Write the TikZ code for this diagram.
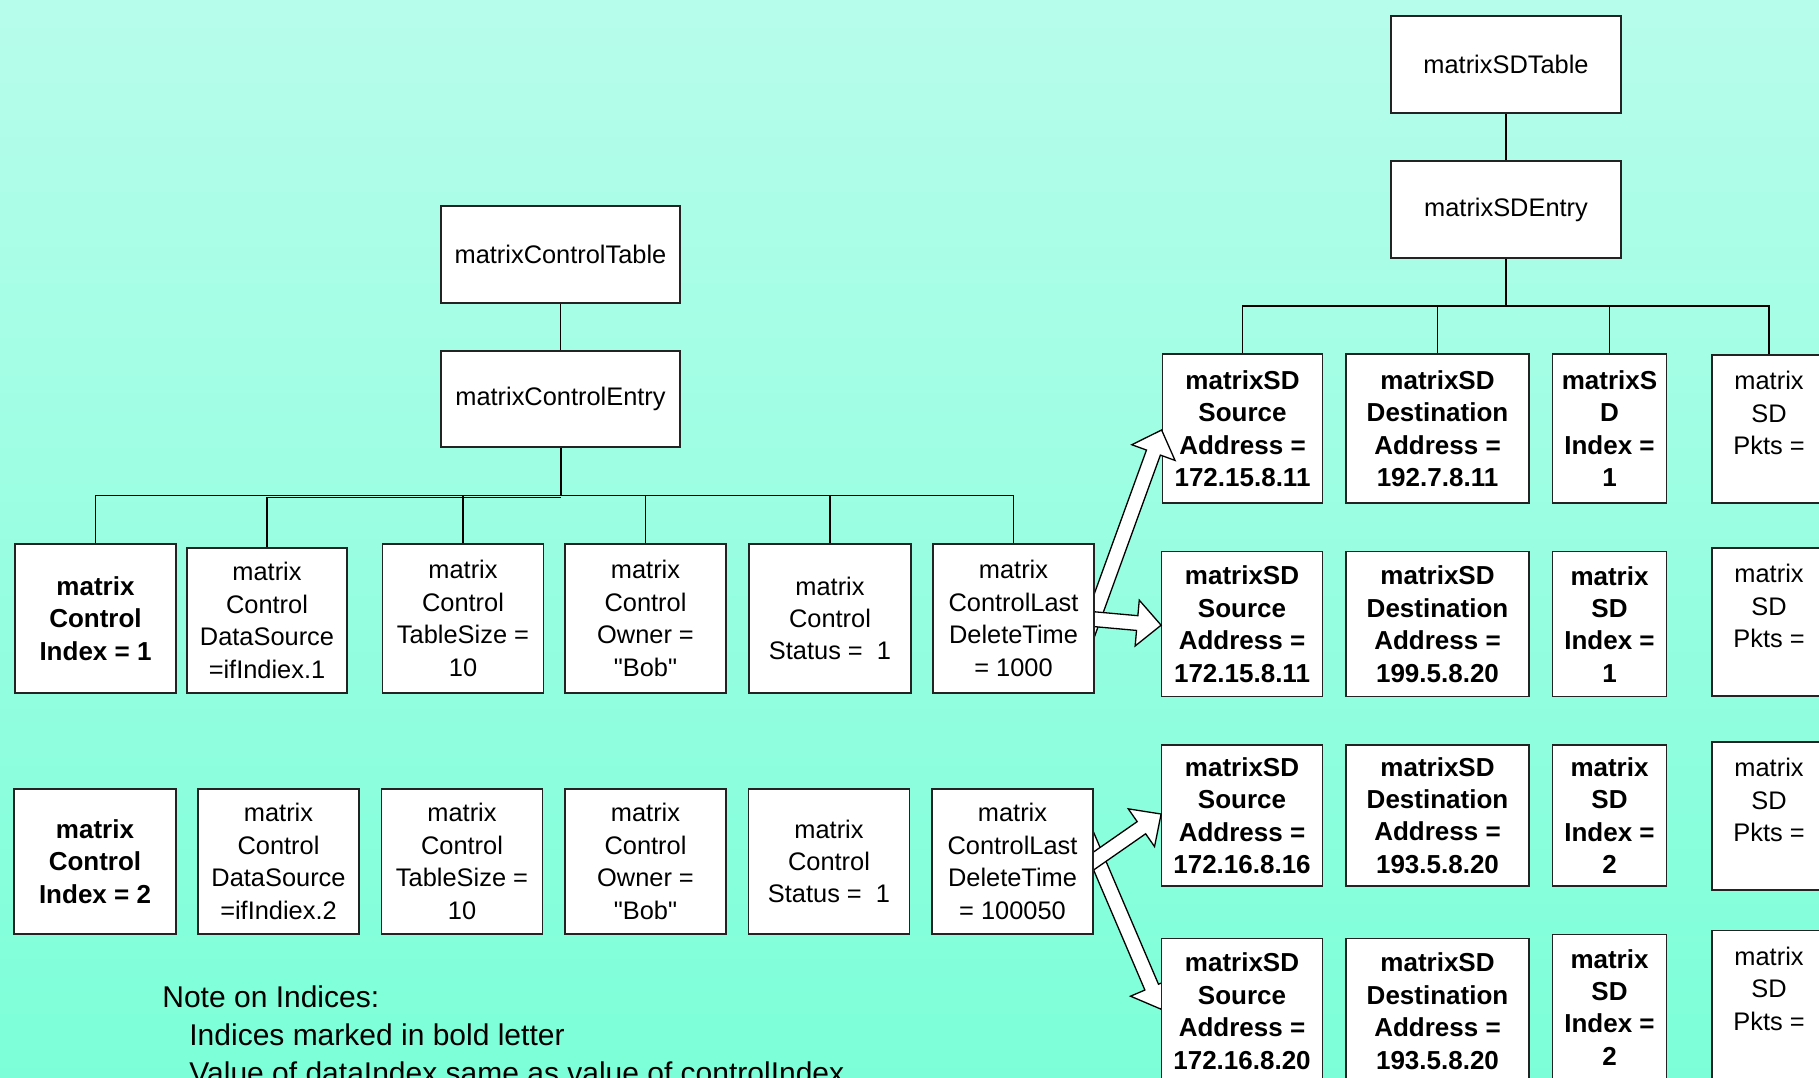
\documentclass[tikz,border=0pt]{standalone}
\usepackage{fontspec}
\setmainfont{Liberation Sans}[Ligatures=TeXOff]
\usetikzlibrary{calc}

\pgfdeclarelayer{bg}
\pgfdeclarelayer{back}
\pgfdeclarelayer{mid}
\pgfdeclarelayer{front}
\pgfsetlayers{bg,back,main,mid,front}

\definecolor{mintTop}{RGB}{183,253,235}
\definecolor{mintBot}{RGB}{124,255,216}
\definecolor{edge}{RGB}{35,35,35}

\tikzset{
  box/.style={draw=edge, fill=white, line width=0.65pt, align=center,
    inner sep=0pt, font=\fontsize{12.7}{16.2}\selectfont},
  keybox/.style={box, font=\fontsize{13}{16.2}\selectfont\bfseries},
  topbox/.style={box, minimum width=119.5pt, minimum height=48.5pt},
  sdtop/.style={box, minimum width=115pt, minimum height=48.5pt},
  lw/.style={minimum width=80.5pt},
  srcw/.style={minimum width=80.25pt},
  dstw/.style={minimum width=91.5pt},
  idxw/.style={minimum width=57.25pt},
  pktw/.style={minimum width=57pt},
  tree/.style={draw=black, line width=0.65pt},
  trunk/.style={draw=black, line width=1pt},
  blkarrow/.style={draw=black, fill=white, line width=0.65pt, line join=miter},
  note/.style={anchor=base west, inner sep=0pt, font=\fontsize{15}{19}\selectfont},
}

% block arrow from a tail point to a tip point
\newcommand{\blockarrow}[2]{%
  \coordinate (#1-hb) at ($(#2)!12pt!(#1)$);
  \draw[blkarrow] ($(#1)!3.7pt!90:(#2)$) -- ($(#1-hb)!3.7pt!90:(#2)$)
    -- ($(#1-hb)!11.5pt!90:(#2)$) -- (#2)
    -- ($(#1-hb)!11.5pt!-90:(#2)$) -- ($(#1-hb)!3.7pt!-90:(#2)$)
    -- ($(#1)!3.7pt!-90:(#2)$) -- cycle;
}

\begin{document}
\begin{tikzpicture}[x=0.5pt, y=-0.5pt]
\useasboundingbox (0,0) rectangle (1819,1077);
\begin{pgfonlayer}{bg}
  \shade[top color=mintTop, bottom color=mintBot] (0,0) rectangle (1819,1077);
\end{pgfonlayer}

% ---- control table tree ----
\node[topbox] (ct) at (560.5,254.5) {matrixControlTable};
\node[topbox, minimum height=48pt] (ce) at (560.5,399) {matrixControlEntry};

\node[keybox, lw, minimum height=74.5pt] (i1) at (95.5,618.5) {matrix\\Control\\Index = 1};
\node[box, minimum width=80pt, minimum height=72.5pt] (d1) at (267,620.5) {matrix\\Control\\DataSource\\=ifIndiex.1};
\node[box, lw, minimum height=74.5pt] (t1) at (463,618.5) {matrix\\Control\\TableSize =\\10};
\node[box, lw, minimum height=74.5pt] (o1) at (645.5,618.5) {matrix\\Control\\Owner =\\"Bob"};
\node[box, minimum width=81pt, minimum height=74.5pt] (s1) at (830,618.5) {matrix\\Control\\Status = \ 1};

\node[keybox, minimum width=81pt, minimum height=72.5pt] (i2) at (95,861.5) {matrix\\Control\\Index = 2};
\node[box, lw, minimum height=72.5pt] (d2) at (278.5,861.5) {matrix\\Control\\DataSource\\=ifIndiex.2};
\node[box, lw, minimum height=72.5pt] (t2) at (462,861.5) {matrix\\Control\\TableSize =\\10};
\node[box, lw, minimum height=72.5pt] (o2) at (645.5,861.5) {matrix\\Control\\Owner =\\"Bob"};
\node[box, lw, minimum height=72.5pt] (s2) at (829,861.5) {matrix\\Control\\Status = \ 1};

\begin{pgfonlayer}{front}
  \node[box, lw, minimum height=74.5pt] (l1) at (1013.5,618.5) {matrix\\ControlLast\\DeleteTime\\= 1000};
  \node[box, lw, minimum height=72.5pt] (l2) at (1012.5,861.5) {matrix\\ControlLast\\DeleteTime\\= 100050};
\end{pgfonlayer}

\coordinate (cbus) at (560.5,495.5);
\coordinate (cbus2) at (560.5,497.5);
\draw[tree] (ct) -- (ce);
\draw[trunk] (ce.south) -- (cbus);
\foreach \n in {i1,t1,o1,s1,l1} \draw[tree] (\n.north) |- (cbus);
\draw[tree] (d1.north) |- (cbus2);

% ---- SD table tree ----
\node[sdtop] (sdt) at (1506,64.5) {matrixSDTable};
\node[sdtop] (sde) at (1506,209.5) {matrixSDEntry};

\node[keybox, srcw, minimum height=74.5pt] (a1) at (1242.5,428.5) {matrixSD\\Source\\Address =\\172.15.8.11};
\node[keybox, dstw, minimum height=74.5pt] (b1) at (1437.5,428.5) {matrixSD\\Destination\\Address =\\192.7.8.11};
\node[keybox, idxw, minimum height=74.5pt] (c1) at (1609.5,428.5) {matrixS\\D\\Index =\\1};
\node[box, pktw, minimum height=74pt] (p1) at (1769,429) {matrix\\SD\\Pkts =\\\mbox{}};

\node[keybox, srcw, minimum height=72.5pt] (a2) at (1242,624.2) {matrixSD\\Source\\Address =\\172.15.8.11};
\node[keybox, dstw, minimum height=72.5pt] (b2) at (1437.5,624.2) {matrixSD\\Destination\\Address =\\199.5.8.20};
\node[keybox, idxw, minimum height=72.5pt] (c2) at (1609.5,624.2) {matrix\\SD\\Index =\\1};
\node[box, pktw, minimum height=74pt] (p2) at (1769,622) {matrix\\SD\\Pkts =\\\mbox{}};

\node[keybox, srcw, minimum height=70.5pt] (a3) at (1242,815.5) {matrixSD\\Source\\Address =\\172.16.8.16};
\node[keybox, dstw, minimum height=70.5pt] (b3) at (1437.5,815.5) {matrixSD\\Destination\\Address =\\193.5.8.20};
\node[keybox, idxw, minimum height=70.5pt] (c3) at (1609.5,815.5) {matrix\\SD\\Index =\\2};
\node[box, pktw, minimum height=74pt] (p3) at (1769,816) {matrix\\SD\\Pkts =\\\mbox{}};

\node[keybox, srcw, minimum height=72.5pt] (a4) at (1242,1011.2) {matrixSD\\Source\\Address =\\172.16.8.20};
\node[keybox, dstw, minimum height=72.5pt] (b4) at (1437.5,1011.2) {matrixSD\\Destination\\Address =\\193.5.8.20};
\node[keybox, idxw, minimum height=72.5pt] (c4) at (1609.5,1007.2) {matrix\\SD\\Index =\\2};
\node[box, pktw, minimum height=74pt] (p4) at (1769,1004.7) {matrix\\SD\\Pkts =\\\mbox{}};

\coordinate (sbus) at (1506,306);
\draw[tree] (sdt) -- (sde);
\draw[trunk] (sde.south) -- (sbus);
\foreach \n in {a1,b1,c1,p1} \draw[tree] (\n.north) |- (sbus);

% ---- links from the delete-time entries to the SD rows ----
\coordinate (tA) at ($(l1.east)+(-8,18)$);
\coordinate (hA) at ($(a1.west)+(0,1.5)$);
\coordinate (tB) at ($(l1.east)+(-8,0)$);
\coordinate (hB) at ($(a2.west)+(0,1)$);
\coordinate (tC) at ($(l2.east)+(-8,5)$);
\coordinate (hC) at ($(a3.west)+(0,-1.5)$);
\coordinate (tD) at ($(l2.east)+(-8,-29)$);
\coordinate (hD) at ($(a4.west)+(0,-2)$);

\begin{pgfonlayer}{mid}
  \blockarrow{tA}{hA}
  \blockarrow{tB}{hB}
  \blockarrow{tC}{hC}
\end{pgfonlayer}
\begin{pgfonlayer}{back}
  \blockarrow{tD}{hD}
\end{pgfonlayer}

% ---- note ----
\node[note] (n1) at (162,1007) {Note on Indices:};
\node[note] (n2) at (189,1045) {Indices marked in bold letter};
\node[note] (n3) at (189,1083.5) {Value of dataIndex same as value of controlIndex};
\end{tikzpicture}
\end{document}
